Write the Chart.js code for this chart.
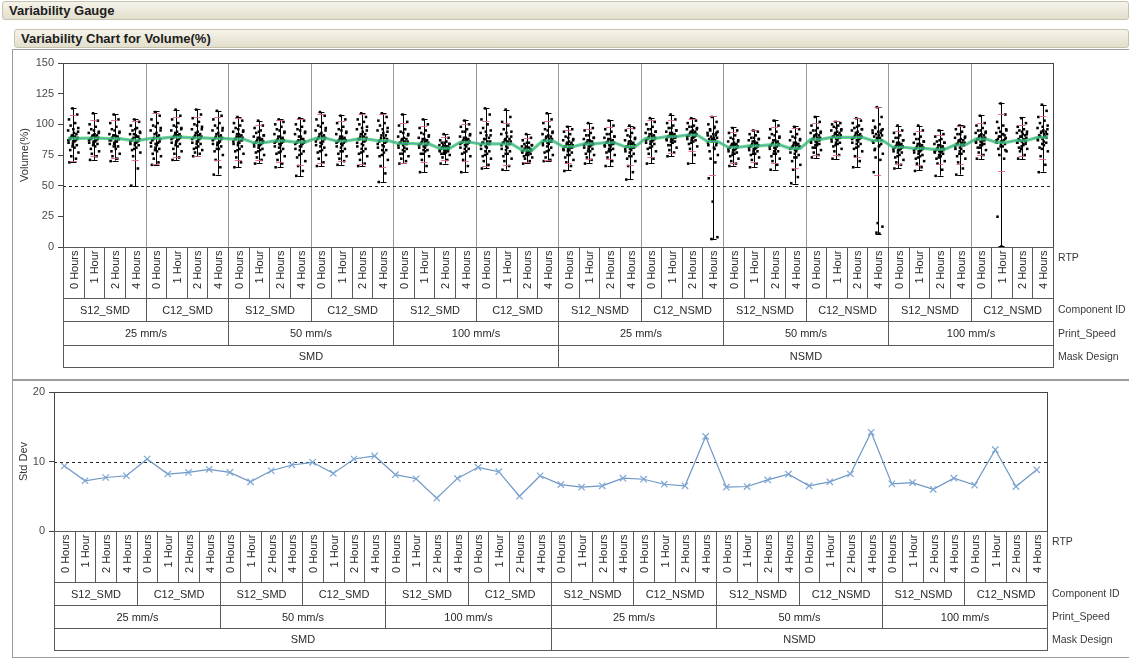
<!DOCTYPE html>
<html><head><meta charset="utf-8">
<script src="https://cdn.jsdelivr.net/npm/chart.js@4"></script>
<style>
body{margin:0;background:#fff;width:1129px;height:661px;overflow:hidden;position:relative;font-family:"Liberation Sans",Arial,sans-serif;}
.bar{position:absolute;height:19px;background:linear-gradient(#f5f3ea,#e3dfcd);border:1px solid #c6c2ae;border-radius:3px;font-weight:bold;font-size:13px;color:#1c1c1c;line-height:17px;padding-left:6px;box-sizing:border-box;}
.panel{position:absolute;left:12px;width:1117px;border:1px solid #9c9c9c;border-right:none;box-sizing:border-box;}
.wrap{position:absolute;left:12px;width:1117px;}
</style></head><body>
<div class="bar" style="left:2px;top:1px;width:1127px;">Variability Gauge</div>
<div class="bar" style="left:14px;top:29px;width:1115px;">Variability Chart for Volume(%)</div>
<div class="panel" style="top:49px;height:331px;"></div>
<div class="panel" style="top:380px;height:278px;"></div>
<div class="wrap" style="top:50px;height:329px;"><canvas id="c1"></canvas></div>
<div class="wrap" style="top:380px;height:277px;"><canvas id="c2"></canvas></div>
<script>
// ---------- data ----------
const rtpLevels = ["0 Hours","1 Hour","2 Hours","4 Hours"];
const componentIds = ["S12_SMD","C12_SMD","S12_SMD","C12_SMD","S12_SMD","C12_SMD","S12_NSMD","C12_NSMD","S12_NSMD","C12_NSMD","S12_NSMD","C12_NSMD"];
const printSpeeds = ["25 mm/s","50 mm/s","100 mm/s","25 mm/s","50 mm/s","100 mm/s"];
const maskDesigns = ["SMD","NSMD"];
const rowLabels = ["RTP","Component ID","Print_Speed","Mask Design"];
const volumeTicks = [0,25,50,75,100,125,150];
const stdTicks = [0,10,20];
const volumeRef = 50;
const stdRef = 10;

const cellMeans = [88.6,88.8,88.3,87.2, 88.6,89.5,89.0,88.6, 88.0,85.0,86.5,85.5, 88.6,86.4,88.0,86.8,
  84.5,84.0,80.4,85.4, 84.0,84.0,79.0,86.5, 81.8,84.0,85.0,81.8, 88.6,90.0,91.3,86.0,
  81.3,82.4,83.2,80.4, 87.8,89.4,89.4,86.7, 81.3,80.4,79.6,83.2, 88.0,85.3,87.0,89.4];
const cellStdDev = [9.35,7.23,7.7,7.95, 10.36,8.2,8.43,8.87, 8.43,7.08,8.67,9.5, 9.88,8.29,10.36,10.8,
  8.1,7.52,4.72,7.57, 9.16,8.53,5.0,7.95, 6.68,6.3,6.5,7.6, 7.45,6.73,6.5,13.6,
  6.3,6.4,7.35,8.17, 6.5,7.07,8.2,14.2, 6.78,6.97,6.0,7.6, 6.6,11.7,6.4,8.8];
const cellMax = [113.3,109,108.4,104.3, 110.6,112,112.5,111, 106,103,104,105, 110,107.6,109,109.2,
  108.7,104.3,92,103.8, 113.3,112,92,109.2, 98.4,101,103.3,99, 105,107.9,105,106.5,
  97.6,95.7,103.8,98.4, 106.5,102.4,105.2,114, 99,99,95.7,99.7, 107.3,117.4,105.7,116];
const cellMin = [69.3,71,70.4,49.5, 67,71,74,59, 65,68.5,65,57.6, 65.8,67,66,52.7,
  68.5,60.9,68,60.9, 64.4,63,68.5,69.8, 62.5,68.5,65.8,55.4, 68.5,74,68.5,6.5,
  66.3,65.2,63,51.6, 72.6,71.7,65.2,10.9, 64.4,62.5,58.2,59, 71.7,0.5,71.7,61.4];
const volumeValues = [
 [113,108,104,101,99,97,95,93,92,90,89,88,87,86,85,83,81,79,77,74,72,69,96,94,91,90,89,88,87,86,84,82],
 [109,103,100,98,96,94,93,92,91,90,89,88,87,86,85,84,82,80,78,76,74,71,95,93,91,90,89,88,87,86,85,83],
 [108,104,101,98,96,94,92,91,90,89,88,87,86,85,84,82,80,78,76,74,72,70,95,93,91,90,89,88,87,86,84,82],
 [104,102,99,97,95,93,92,91,90,89,88,87,86,85,84,83,81,79,77,74,64,50,96,94,92,90,88,87,86,85,83,80],
 [110,107,104,101,99,97,95,93,91,89,88,87,85,84,82,80,78,76,74,72,69,67,98,95,92,90,88,86,85,83,81,79],
 [112,107,104,101,99,97,95,94,92,91,90,89,88,86,85,84,82,80,78,76,73,71,98,96,93,91,90,89,88,87,85,83],
 [112,108,105,102,100,98,96,94,92,91,90,89,88,86,85,84,82,80,79,77,76,74,99,96,93,91,90,89,88,86,84,81],
 [111,107,104,101,99,97,95,93,91,90,89,88,86,85,84,82,80,78,75,71,65,59,97,95,92,90,89,88,87,85,83,80],
 [106,103,101,99,97,95,94,92,91,90,89,88,87,85,84,82,80,78,76,73,69,65,96,94,92,90,88,87,86,85,83,79],
 [103,99,97,95,93,91,90,89,88,87,86,85,84,83,82,80,79,77,75,73,71,68,94,91,89,87,86,85,84,83,81,78],
 [104,102,100,98,96,94,92,90,89,88,87,86,85,84,82,80,78,76,74,71,68,65,95,93,90,88,87,86,85,83,81,77],
 [105,103,100,98,96,94,92,90,88,87,86,85,84,82,80,78,76,73,70,66,62,58,95,93,90,88,86,85,84,82,79,75],
 [110,107,104,101,99,97,95,93,91,90,89,88,86,85,83,81,79,77,75,72,69,66,98,95,92,90,89,88,86,84,82,78],
 [107,104,101,98,96,94,92,90,89,88,87,86,85,84,82,80,78,76,74,72,70,67,95,93,90,88,87,86,85,83,81,78],
 [109,106,104,102,100,98,96,94,92,90,89,88,86,84,82,80,78,76,74,71,68,66,97,95,92,90,88,87,85,83,80,77],
 [109,106,103,101,99,97,95,93,91,89,88,86,85,83,81,79,77,74,71,66,60,53,96,94,91,89,87,86,84,82,79,75],
 [108,102,99,96,94,92,90,89,88,87,86,85,84,83,81,80,78,76,74,72,70,68,93,91,88,86,85,84,83,81,79,76],
 [104,100,97,95,93,91,89,88,87,86,85,84,83,82,81,79,78,76,74,71,66,61,92,90,88,86,85,84,83,81,79,76],
 [92,89,87,86,85,84,83,82,82,81,81,80,80,79,78,78,77,76,75,73,71,68,85,84,83,82,81,80,79,78,77,76],
 [103,100,98,96,94,92,90,89,88,87,86,85,84,83,81,80,78,76,74,71,66,61,94,91,89,87,86,85,84,82,80,77],
 [113,108,104,100,97,95,93,91,89,88,86,85,84,82,80,78,76,74,72,70,67,64,94,91,88,86,85,84,83,81,78,75],
 [112,106,102,99,96,94,92,90,88,87,86,85,84,82,80,78,76,74,72,70,66,63,93,90,88,86,85,84,83,81,79,76],
 [92,89,87,85,84,83,82,81,80,80,79,79,78,78,77,76,75,74,73,72,70,68,85,83,82,81,80,79,78,77,76,75],
 [109,104,101,98,96,94,92,91,90,89,88,87,86,85,83,81,79,77,75,73,71,70,95,93,90,88,87,86,85,84,82,78],
 [98,96,94,92,90,88,87,86,85,84,83,82,81,80,79,77,75,73,71,69,66,62,89,87,85,83,82,81,80,79,78,75],
 [101,97,95,93,91,89,88,87,86,85,84,84,83,82,81,80,78,76,75,73,71,68,91,89,87,86,85,84,83,82,80,78],
 [103,99,96,94,92,90,89,88,87,86,85,85,84,83,82,80,79,77,75,73,70,66,92,90,88,86,85,84,83,82,80,78],
 [99,97,95,93,91,89,87,86,85,84,83,82,81,80,78,76,74,72,70,66,61,55,90,88,86,84,82,81,80,79,77,74],
 [105,102,100,98,96,94,93,92,91,90,89,88,87,86,85,84,82,80,78,76,72,68,96,94,92,90,89,88,87,86,84,81],
 [108,104,101,99,97,95,94,93,92,91,90,90,89,88,87,86,85,83,81,79,77,74,97,95,93,91,90,89,88,87,86,83],
 [105,103,101,99,98,97,96,95,94,93,92,91,90,89,88,87,86,84,82,80,75,68,98,96,94,93,92,91,90,89,87,85],
 [106,102,100,98,96,94,93,92,91,90,89,88,87,86,85,83,81,78,75,72,69,56,37,8,6.5,97,95,93,91,89,88,87,85,83,80],
 [97,95,93,91,89,87,86,85,84,83,82,81,80,79,78,77,76,74,72,70,68,66,88,86,84,83,82,81,80,79,77,75],
 [95,94,92,91,89,88,87,86,85,84,83,82,81,80,79,78,76,75,73,71,68,65,89,88,86,84,83,82,81,80,78,76],
 [103,99,96,94,92,90,89,87,86,85,84,83,82,81,80,78,76,74,72,70,67,63,91,89,87,85,84,83,82,80,78,76],
 [98,96,94,92,90,88,87,85,84,83,82,81,80,79,77,75,73,70,67,63,57,52,89,87,85,83,82,81,80,78,76,73],
 [106,102,99,97,95,94,93,92,91,90,89,88,87,86,85,84,83,81,79,77,75,73,95,93,91,89,88,87,86,85,83,81],
 [102,101,100,99,98,96,95,94,93,92,91,90,89,88,86,85,84,82,80,78,75,72,97,95,93,91,90,89,88,87,85,83],
 [105,103,101,99,97,96,95,94,92,91,90,89,88,87,85,84,82,80,78,74,70,65,98,96,93,91,90,89,88,86,84,81],
 [114,106,103,100,98,96,95,94,93,92,91,90,89,87,86,84,82,79,76,73,71,61,19.5,16.6,11.7,10.9,97,95,93,91,89,88,87,85,83,80],
 [99,95,93,91,89,87,86,85,84,83,82,81,80,79,78,77,75,73,71,69,67,64,89,87,85,83,82,81,80,79,77,74],
 [99,95,92,90,88,86,85,84,83,82,81,80,79,78,77,75,74,72,70,68,65,62,88,86,84,82,81,80,79,78,76,73],
 [95,92,90,88,86,85,84,83,82,81,80,79,78,78,77,76,74,72,70,68,63,58,87,85,83,81,80,79,78,77,75,73],
 [99,98,96,94,92,90,89,88,87,86,85,84,83,81,80,78,76,74,72,69,64,59,92,89,87,85,84,83,82,80,78,76],
 [107,101,99,97,95,94,93,92,91,90,89,88,87,86,85,84,83,81,79,77,75,72,95,93,91,89,88,87,86,85,83,81],
 [117,108,102,99,97,95,93,92,91,90,89,88,87,86,85,84,82,80,78,75,72,24.7,0.5,96,94,92,90,88,87,86,84,82,79],
 [105,101,98,96,95,94,93,92,91,90,89,88,87,86,85,84,83,81,80,78,75,72,94,92,90,88,87,86,85,84,82,80],
 [116,111,106,103,101,99,97,95,94,93,92,91,90,88,87,85,83,81,78,74,67,61,98,96,94,92,90,89,88,86,84,80]
];

// ---------- styling constants ----------
const FONT = '"Liberation Sans", Arial, sans-serif';
const jitterPattern = [-0.04,0.19,-0.21,0.09,-0.13,0.24,-0.25,0.03,0.15,-0.08,0.21,-0.17,0.11,-0.01,-0.23,0.17,0.06,-0.15,0.25,-0.1,0.13,-0.19,0.0,0.23,-0.06,0.08,-0.12,0.18,-0.24,0.05,-0.02];
const nCells = cellMeans.length;

function headerLevels(){
  return [
    {size:1, label:i=>rtpLevels[i%4], rot:true},
    {size:4, label:j=>componentIds[j]},
    {size:8, label:j=>printSpeeds[j]},
    {size:24, label:j=>maskDesigns[j]}
  ];
}

function makePlugin(cfg){
  return {
    id:'jmp'+cfg.id,
    beforeDatasetsDraw(chart){
      const {ctx, chartArea:a, scales:{x,y}} = chart;
      ctx.save();
      if(cfg.separators){
        ctx.strokeStyle='#9a9a9a'; ctx.lineWidth=1;
        for(let k=4;k<nCells;k+=4){
          const px=Math.round(x.getPixelForValue(k))+0.5;
          ctx.beginPath(); ctx.moveTo(px,a.top); ctx.lineTo(px,a.bottom); ctx.stroke();
        }
      }
      const ry=Math.round(y.getPixelForValue(cfg.ref))+0.5;
      ctx.strokeStyle='#222'; ctx.setLineDash([3,3]); ctx.lineWidth=1;
      ctx.beginPath(); ctx.moveTo(a.left,ry); ctx.lineTo(a.right,ry); ctx.stroke();
      ctx.setLineDash([]);
      if(cfg.ranges){
        ctx.strokeStyle='#000'; ctx.lineWidth=1;
        for(let i=0;i<nCells;i++){
          const cx=Math.round(x.getPixelForValue(i+0.5))+0.5;
          const y0=y.getPixelForValue(cellMin[i]), y1=y.getPixelForValue(cellMax[i]);
          ctx.beginPath(); ctx.moveTo(cx,y0); ctx.lineTo(cx,y1);
          ctx.moveTo(cx-3,Math.round(y0)+0.5); ctx.lineTo(cx+3,Math.round(y0)+0.5);
          ctx.moveTo(cx-3,Math.round(y1)+0.5); ctx.lineTo(cx+3,Math.round(y1)+0.5);
          ctx.stroke();
        }
      }
      ctx.restore();
    },
    afterDatasetsDraw(chart){
      const {ctx, scales:{x,y}} = chart;
      if(!cfg.ranges) return;
      ctx.save();
      ctx.strokeStyle='rgba(225,90,140,0.85)'; ctx.lineWidth=1;
      for(let i=0;i<nCells;i++){
        const cx=x.getPixelForValue(i+0.5);
        const hi=Math.min(cellMax[i], cellMeans[i]+2*cellStdDev[i]);
        const lo=Math.max(cellMin[i], cellMeans[i]-2*cellStdDev[i]);
        [hi,lo].forEach(v=>{const py=Math.round(y.getPixelForValue(v))+0.5;
          ctx.beginPath(); ctx.moveTo(cx-3.5,py); ctx.lineTo(cx+3.5,py); ctx.stroke();});
      }
      ctx.restore();
    },
    afterDraw(chart){
      const {ctx, chartArea:a, scales:{x}} = chart;
      ctx.save();
      ctx.strokeStyle='#444'; ctx.lineWidth=1;
      ctx.strokeRect(Math.round(a.left)+0.5, Math.round(a.top)+0.5, Math.round(a.right-a.left), Math.round(a.bottom-a.top));
      ctx.fillStyle='#333'; ctx.font='11px '+FONT; ctx.textAlign='center'; ctx.textBaseline='middle';
      ctx.save(); ctx.translate(cfg.titleX,(a.top+a.bottom)/2); ctx.rotate(-Math.PI/2);
      ctx.fillText(cfg.title,0,0); ctx.restore();
      let top=Math.round(a.bottom)+0.5;
      ctx.strokeStyle='#5a5a5a';
      headerLevels().forEach((lv,li)=>{
        const h=cfg.rows[li];
        const n=nCells/lv.size;
        for(let j=0;j<n;j++){
          const x0=Math.round(x.getPixelForValue(j*lv.size))+0.5;
          const x1=Math.round(x.getPixelForValue((j+1)*lv.size))+0.5;
          ctx.strokeRect(x0,top,x1-x0,h);
          ctx.fillStyle='#2a2a2a'; ctx.font='11px '+FONT;
          const txt=lv.label(j);
          if(lv.rot){
            ctx.save(); ctx.translate((x0+x1)/2+0.5, top+3); ctx.rotate(-Math.PI/2);
            ctx.textAlign='right'; ctx.textBaseline='middle'; ctx.fillText(txt,0,0); ctx.restore();
          } else {
            ctx.textAlign='center'; ctx.textBaseline='middle'; ctx.fillText(txt,(x0+x1)/2,top+h/2+0.5);
          }
        }
        ctx.fillStyle='#3a3a3a'; ctx.font='10.5px '+FONT; ctx.textAlign='left'; ctx.textBaseline='middle';
        ctx.fillText(rowLabels[li], a.right+5, li===0? top+11 : top+h/2+0.5);
        top+=h;
      });
      ctx.restore();
    }
  };
}

// ---------- top chart ----------
const pointData=[];
volumeValues.forEach((vals,i)=>vals.forEach((v,k)=>pointData.push({x:i+0.5+jitterPattern[k%jitterPattern.length], y:v})));
const meanData=[];
cellMeans.forEach((m,i)=>{meanData.push({x:i+0.25,y:m}); meanData.push({x:i+0.75,y:m});});

const yTickCommon = {color:'#4a4a4a', font:{size:11, family:FONT}, padding:4};

new Chart(document.getElementById('c1'),{
  type:'scatter',
  data:{datasets:[
    {type:'line', data:meanData, borderColor:'rgba(90,140,200,0.7)', borderWidth:1, pointRadius:0, order:1},
    {type:'line', data:meanData, borderColor:'rgba(40,205,90,0.72)', borderWidth:3.2, pointRadius:0, order:2},
    {data:pointData, backgroundColor:'#000', borderColor:'#000', pointStyle:'rect', pointRadius:1.8, borderWidth:0, order:3}
  ]},
  options:{
    responsive:true, maintainAspectRatio:false, animation:false,
    layout:{padding:{left:0, top:13, right:76, bottom:132}},
    plugins:{legend:{display:false}, tooltip:{enabled:false}},
    scales:{
      x:{type:'linear', min:0, max:nCells, display:false},
      y:{min:volumeTicks[0], max:volumeTicks[volumeTicks.length-1],
         afterBuildTicks(s){s.ticks=volumeTicks.map(v=>({value:v}));},
         afterFit(s){s.width=51;},
         ticks:yTickCommon,
         grid:{drawOnChartArea:false, drawTicks:true, tickLength:5, color:'#444'},
         border:{color:'#444'}}
    }
  },
  plugins:[makePlugin({id:1, separators:true, ranges:true, ref:volumeRef, title:'Volume(%)', titleX:13, rows:[51,23,24,22]})]
});

// ---------- bottom chart ----------
const stdData = cellStdDev.map((s,i)=>({x:i+0.5,y:s}));
new Chart(document.getElementById('c2'),{
  type:'scatter',
  data:{datasets:[
    {type:'line', data:stdData, borderColor:'#6d97c6', borderWidth:1.2, pointStyle:'crossRot', pointRadius:4.5,
     pointBorderColor:'#7ea6d3', pointBackgroundColor:'#7ea6d3', pointBorderWidth:1.2}
  ]},
  options:{
    responsive:true, maintainAspectRatio:false, animation:false,
    layout:{padding:{left:0, top:12, right:82, bottom:126}},
    plugins:{legend:{display:false}, tooltip:{enabled:false}},
    scales:{
      x:{type:'linear', min:0, max:nCells, display:false},
      y:{min:stdTicks[0], max:stdTicks[stdTicks.length-1],
         afterBuildTicks(s){s.ticks=stdTicks.map(v=>({value:v}));},
         afterFit(s){s.width=42;},
         ticks:yTickCommon,
         grid:{drawOnChartArea:false, drawTicks:true, tickLength:5, color:'#444'},
         border:{color:'#444'}}
    }
  },
  plugins:[makePlugin({id:2, separators:false, ranges:false, ref:stdRef, title:'Std Dev', titleX:12, rows:[51,23,23,22]})]
});
</script>
</body></html>
